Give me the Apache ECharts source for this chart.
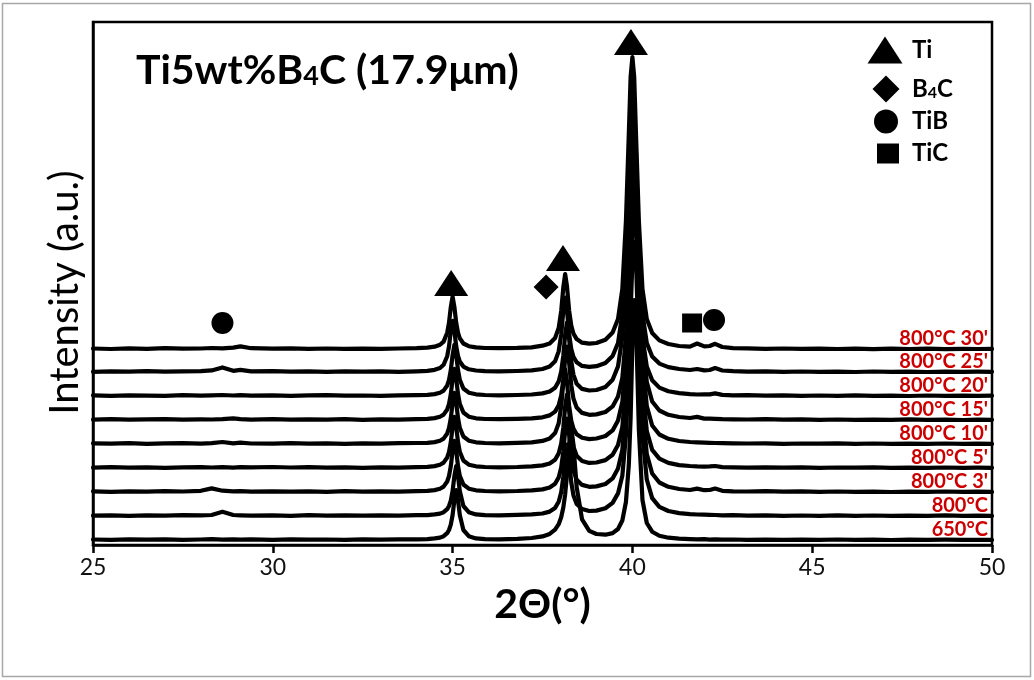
<!DOCTYPE html>
<html>
<head>
<meta charset="utf-8">
<script src="https://cdn.jsdelivr.net/npm/echarts@6/dist/echarts.min.js"></script>
<style>
html, body { margin: 0; padding: 0; background: #ffffff; }
#chart { width: 1034px; height: 680px; }
</style>
</head>
<body>
<div id="chart"></div>
<script>
// 2θ positions (degrees) shared by every pattern
const twoTheta = [
  25, 25.5, 26, 26.5, 27, 27.5, 28, 28.3, 28.6, 28.9, 29.1, 29.4, 30, 30.5, 31, 31.5, 32, 32.5, 33, 33.5, 34,
  34.3, 34.5, 34.65, 34.75, 34.85, 34.9, 34.95, 35, 35.05, 35.1, 35.15, 35.2, 35.3, 35.45, 35.65, 35.9,
  36.3, 36.8, 37.2,
  37.5, 37.7, 37.85, 37.95, 38.02, 38.08, 38.13, 38.18, 38.24, 38.3, 38.36, 38.45, 38.6,
  38.8, 39.0, 39.25, 39.45, 39.6, 39.72, 39.82, 39.9, 39.95, 40.0, 40.05, 40.1, 40.18, 40.28, 40.4, 40.55, 40.75, 41.0, 41.3, 41.6,
  41.8, 42.0, 42.15, 42.3, 42.5, 42.8, 43.2, 43.7, 44.2, 44.7, 45.2, 45.7, 46.2, 46.7, 47.2, 47.7, 48.2, 48.7, 49.2, 49.6, 50
];

// Sample labels, bottom pattern first
const sampleNames = ["650°C", "800°C", "800°C 3'", "800°C 5'", "800°C 10'", "800°C 15'", "800°C 20'", "800°C 25'", "800°C 30'"];

// Vertical stacking offset of each pattern (a.u.)
const offsets = [5, 29, 53, 77, 101, 125, 149, 173, 196];

// Intensities above each pattern's own baseline (a.u.)
const i650 = [
  0.5, 0.2, 0.6, 0.3, 0.7, 0.2, 0.5, 0.8, 0.4, 0.7, 0.3, 0.6, 0.2, 0.7, 0.3, 0.5, 0.2, 0.6, 0.3, 0.7, 0.7,
  0.9, 1.6, 2.4, 3.8, 6.9, 10, 15.4, 25, 40, 50, 40, 25, 10, 3.8, 1.6, 0.9,
  0.6, 1.2, 2.0,
  3.6, 6.1, 10.3, 15.8, 22.8, 32.7, 45.7, 65, 95, 112.5, 95.2, 52.8, 20.6,
  9.1, 6.0, 5.3, 6.9, 11, 19.5, 38, 75, 122, 196, 240, 218, 110, 40, 17, 8.3, 4.2, 2.3, 1.4, 0.9,
  0.7, 0.8, 0.4, 0.6, 0.3, 0.5, 0.2, 0.4, 0.1, 0.4, 0.2, 0.5, 0.1, 0.3, 0.0, 0.4, 0.2, 0.3, 0.1, 0.2, 0.1
];
const i800 = [
  0.3, 0.7, 0.2, 0.6, 0.4, 0.8, 0.6, 1.0, 4.2, 1.0, 0.7, 0.3, 0.6, 0.2, 0.9, 0.4, 0.6, 0.3, 0.7, 0.4, 0.8,
  0.9, 1.6, 2.4, 3.8, 6.9, 10, 15.4, 25, 40, 50, 40, 25, 10, 3.8, 1.6, 0.9,
  0.7, 1.1, 1.6,
  2.5, 4.4, 8.1, 14.2, 23.7, 39.5, 59.3, 71.3, 55.4, 33.6, 20.8, 12, 7.0,
  5.0, 5.4, 7.7, 13.1, 22.6, 40.3, 80.6, 144, 202, 255, 274, 255, 163, 80.6, 36.5, 17.8, 9.1, 5.0, 2.9, 1.9,
  1.5, 1.3, 1.1, 1.0, 0.7, 0.9, 0.4, 0.6, 0.2, 0.5, 0.1, 0.6, 0.2, 0.5, 0.1, 0.4, 0.2, 0.6, 0.2, 0.4, 0.1
];
const i800m3 = [
  0.6, 0.2, 0.7, 0.3, 0.8, 0.5, 1.2, 3.6, 1.3, 0.6, 0.9, 0.4, 0.7, 0.3, 0.6, 0.2, 0.8, 0.4, 0.6, 0.3, 0.9,
  1.2, 1.9, 3.3, 5.4, 10.5, 16, 25.8, 41, 51.2, 41.2, 26, 16.2, 7.5, 3.3, 1.7, 1.0,
  0.7, 1.0, 1.6,
  2.6, 4.5, 8.3, 14.6, 24.4, 40.7, 61.1, 73.5, 57.1, 34.6, 21.4, 12.3, 7.1,
  5.2, 5.6, 8.0, 13.6, 23.5, 42, 84, 150, 210, 266, 285, 266, 170, 84, 38, 18.5, 9.5, 5.2, 3.0, 2.0,
  3.4, 1.8, 2.0, 3.5, 1.2, 0.7, 0.5, 0.8, 0.3, 0.6, 0.2, 0.5, 0.1, 0.4, 0.0, 0.4, 0.2, 0.5, 0.1, 0.3, 0.1
];
const i800m5 = [
  0.4, 0.9, 0.3, 0.7, 0.2, 0.6, 0.9, 0.5, 0.8, 0.4, 0.9, 0.6, 1.0, 0.5, 0.8, 0.3, 0.6, 0.2, 0.7, 0.4, 0.9,
  1.2, 1.9, 3.3, 5.4, 10.5, 16, 25.8, 41, 51.2, 41.2, 26, 16.2, 7.5, 3.3, 1.7, 1.0,
  0.7, 1.0, 1.6,
  2.6, 4.5, 8.3, 14.6, 24.4, 40.7, 61.1, 73.5, 57.1, 34.6, 21.4, 12.3, 7.1,
  5.1, 5.5, 7.9, 13.3, 23, 41, 82, 147, 206, 261, 279, 261, 167, 82, 37, 18.1, 9.3, 5.1, 2.9, 2.0,
  1.6, 1.4, 1.6, 2.0, 0.9, 0.6, 0.4, 0.7, 0.3, 0.6, 0.2, 0.5, 0.3, 0.6, 0.1, 0.4, 0.2, 0.5, 0.1, 0.3, 0.2
];
const i800m10 = [
  0.7, 0.3, 0.8, 0.2, 0.6, 0.9, 0.4, 0.8, 2.0, 0.7, 1.4, 0.5, 0.3, 0.8, 0.4, 0.6, 0.2, 0.7, 0.4, 0.8, 1.0,
  1.2, 1.9, 3.3, 5.4, 10.5, 16, 25.8, 41, 51.2, 41.2, 26, 16.2, 7.5, 3.3, 1.7, 1.0,
  0.7, 1.1, 1.7,
  3.1, 5.5, 10.9, 20.8, 37.8, 61.8, 74.8, 62.8, 38.3, 23.2, 15.4, 9.8, 6.2,
  4.9, 5.5, 8.0, 13.6, 23.5, 42, 84, 150, 210, 266, 285, 266, 170, 84, 38, 18.5, 9.5, 5.2, 3.0, 2.0,
  1.6, 1.3, 1.1, 1.0, 0.8, 0.6, 0.5, 0.7, 0.2, 0.5, 0.3, 0.6, 0.1, 0.5, 0.2, 0.4, 0.1, 0.5, 0.2, 0.4, 0.1
];
const i800m15 = [
  0.3, 0.8, 0.4, 0.6, 0.9, 0.3, 0.7, 0.5, 0.9, 1.6, 0.8, 0.4, 0.8, 0.3, 0.7, 0.4, 0.8, 0.2, 0.6, 0.3, 0.8,
  1.2, 1.9, 3.3, 5.4, 10.5, 16, 25.8, 41, 51.2, 41.2, 26, 16.2, 7.5, 3.3, 1.7, 1.0,
  0.8, 1.1, 1.6,
  2.7, 4.6, 8.4, 14.7, 24.5, 40.8, 61.2, 73.5, 57.2, 34.7, 21.5, 12.4, 7.1,
  5.2, 5.6, 8.0, 13.6, 23.5, 42, 84, 150, 210, 266, 285, 266, 170, 84, 38, 18.5, 9.5, 5.2, 3.0, 2.0,
  3.1, 1.4, 1.3, 1.2, 0.8, 0.7, 0.5, 0.8, 0.3, 0.6, 0.2, 0.5, 0.1, 0.4, 0.2, 0.6, 0.1, 0.4, 0.0, 0.3, 0.2
];
const i800m20 = [
  0.6, 0.2, 0.7, 0.4, 0.2, 0.8, 0.3, 0.6, 1.0, 0.5, 0.9, 0.3, 0.7, 0.2, 0.6, 0.9, 0.3, 0.5, 0.1, 0.6, 0.9,
  1.2, 1.9, 3.3, 5.4, 10.5, 16, 25.8, 41, 51.2, 41.2, 26, 16.2, 7.5, 3.3, 1.7, 1.0,
  0.7, 1.0, 1.5,
  2.6, 4.5, 8.3, 14.6, 24.4, 40.7, 61.1, 73.5, 57.1, 34.6, 21.4, 12.3, 7.1,
  5.5, 6.0, 9.0, 16.2, 29.6, 59, 126, 212, 268, 288, 268, 212, 126, 59, 29.4, 15.7, 8.4, 4.8, 2.9, 1.9,
  1.5, 1.6, 1.6, 2.6, 1.1, 0.6, 0.8, 0.3, 0.6, 0.2, 0.5, 0.1, 0.6, 0.2, 0.4, 0.0, 0.5, 0.2, 0.4, 0.1, 0.3
];
const i800m25 = [
  0.2, 0.7, 0.3, 0.9, 0.4, 0.6, 0.9, 1.6, 4.6, 1.2, 2.2, 0.6, 0.8, 0.3, 0.6, 0.2, 0.7, 0.3, 0.6, 0.2, 0.7,
  1.2, 2.2, 4.0, 7.2, 15.8, 25.6, 41, 51.2, 41, 25.8, 16, 10.4, 5.4, 2.7, 1.5, 0.9,
  0.6, 1.0, 1.6,
  3.0, 5.4, 10.8, 20.6, 37.5, 61.5, 74.5, 62.5, 38, 23, 15.2, 9.7, 6.1,
  5.1, 5.8, 8.9, 16, 29, 58, 124, 208, 264, 283, 264, 208, 124, 58, 29, 15.5, 8.4, 4.9, 3.0, 2.0,
  3.0, 1.6, 2.0, 3.9, 1.5, 0.8, 0.4, 0.7, 0.2, 0.5, 0.1, 0.4, 0.0, 0.5, 0.1, 0.3, 0.0, 0.4, 0.1, 0.3, 0.2
];
const i800m30 = [
  0.5, 0, 0.6, 0.2, 0.8, 0.3, 0.5, 1.0, 0.6, 1.4, 2.6, 0.8, 0.4, 0.7, 0.2, 0.5, 0.1, 0.4, 0.2, 0.5, 0.8,
  1.3, 2.3, 4.2, 7.4, 16.3, 26.3, 41.9, 52.3, 41.9, 26.3, 16.3, 10.7, 5.5, 2.8, 1.6, 1.0,
  0.8, 1.1, 1.7,
  3.3, 5.6, 11, 21, 38, 62, 75, 63, 38.5, 23.4, 15.5, 9.9, 6.3,
  5.3, 6.0, 9.2, 16.5, 30, 60, 128, 215, 272, 292, 272, 215, 128, 60, 30, 16, 8.6, 5.0, 3.0, 2.4,
  5.5, 2.6, 3.0, 5.2, 2.0, 0.9, 0.6, 0.2, 0.5, 0.1, 0.4, 0.0, 0.3, -0.1, 0.3, 0.0, 0.4, -0.1, 0.2, 0.0, 0.1
];

const patterns = [i650, i800, i800m3, i800m5, i800m10, i800m15, i800m20, i800m25, i800m30];

// Phase markers placed above the reflections: [2θ, height in a.u.]
const tiMarks = [[34.96, 262], [38.07, 287], [39.96, 503]];
const b4cMarks = [[37.6, 258]];
const tibMarks = [[28.6, 222], [42.27, 225]];
const ticMarks = [[41.66, 222]];

const xTicks = { min: 25, max: 50, step: 5 };

const FONT = "Lato, 'Open Sans', 'DejaVu Sans', sans-serif";

const chart = echarts.init(document.getElementById('chart'), null, { renderer: 'canvas' });

const patternSeries = patterns.map((vals, i) => ({
  type: 'line',
  name: sampleNames[i],
  symbol: 'none',
  showSymbol: false,
  silent: true,
  animation: false,
  z: 2,
  lineStyle: { color: '#000', width: 4.2, join: 'round', cap: 'round' },
  itemStyle: { color: '#000' },
  endLabel: {
    show: true,
    formatter: sampleNames[i],
    align: 'right',
    verticalAlign: 'middle',
    distance: 0,
    offset: [-4, -10],
    color: '#cc0000',
    fontFamily: FONT,
    fontWeight: 'bold',
    fontSize: 20
  },
  data: vals.map((v, j) => [twoTheta[j], v + offsets[i]])
}));

const markerSeries = [
  { name: 'Ti', symbol: 'triangle', symbolSize: [34, 26], data: tiMarks },
  { name: 'B4C', symbol: 'diamond', symbolSize: [25, 25], data: b4cMarks },
  { name: 'TiB', symbol: 'circle', symbolSize: 22, data: tibMarks },
  { name: 'TiC', symbol: 'rect', symbolSize: [20, 19], data: ticMarks }
].map(s => Object.assign({
  type: 'scatter',
  silent: true,
  animation: false,
  z: 5,
  itemStyle: { color: '#000', opacity: 1 }
}, s));

const legendText = {
  color: '#000',
  fontFamily: FONT,
  fontSize: 24,
  fontWeight: 'bold',
  rich: {
    m: { fontFamily: FONT, fontSize: 24, fontWeight: 'bold', color: '#000' },
    s: { fontFamily: FONT, fontSize: 16, fontWeight: 'bold', color: '#000', padding: [7, 0, 0, 0] }
  }
};
function legendFor(name, icon, w, h, cx, cy, textLeft) {
  const left = cx - w / 2;
  return {
    data: [{ name: name, icon: icon }],
    left: left,
    top: cy - Math.max(h, 29) / 2,
    orient: 'vertical',
    itemWidth: w,
    itemHeight: h,
    padding: 0,
    selectedMode: false,
    formatter: n => n === 'B4C' ? '{m|B}{s|4}{m|C}' : n,
    textStyle: Object.assign({ padding: [0, 0, 0, textLeft - (left + w + 5)] }, legendText)
  };
}

const option = {
  backgroundColor: '#ffffff',
  animation: false,
  title: {
    text: '{a|Ti5wt%B}{b|4}{a|C (17.9μm)}',
    left: 131,
    top: 45,
    textStyle: {
      rich: {
        a: { fontFamily: FONT, fontSize: 41, fontWeight: 'bold', color: '#000' },
        b: { fontFamily: FONT, fontSize: 27, fontWeight: 'bold', color: '#000', padding: [12, 0, 0, 0] }
      }
    }
  },
  legend: [
    legendFor('Ti', 'triangle', 35, 27, 885, 51, 912),
    legendFor('B4C', 'diamond', 27, 27, 886, 90, 912),
    legendFor('TiB', 'circle', 24, 24, 886, 124, 912),
    legendFor('TiC', 'rect', 22, 20, 888, 156, 912)
  ],
  grid: {
    left: 93, right: 42, top: 22, bottom: 135,
    show: true, borderColor: '#000', borderWidth: 2.5, backgroundColor: 'transparent'
  },
  xAxis: {
    type: 'value',
    min: xTicks.min,
    max: xTicks.max,
    interval: xTicks.step,
    name: '2Θ(°)',
    nameLocation: 'middle',
    nameGap: 39,
    nameTextStyle: { fontFamily: FONT, fontSize: 41, fontWeight: 'bold', color: '#000' },
    axisLine: { lineStyle: { color: '#000', width: 2.5 } },
    axisTick: { show: true, length: 8, lineStyle: { color: '#000', width: 2.5 } },
    axisLabel: { fontFamily: FONT, fontSize: 23, color: '#111', margin: 11 },
    splitLine: { show: false }
  },
  yAxis: {
    type: 'value',
    min: 0,
    max: 523,
    name: 'Intensity (a.u.)',
    nameLocation: 'middle',
    nameGap: 8,
    nameTextStyle: { fontFamily: FONT, fontSize: 40, color: '#000', padding: [0, 18, 0, 0] },
    axisLine: { show: true, lineStyle: { color: '#000', width: 2.5 } },
    axisTick: { show: false },
    axisLabel: { show: false },
    splitLine: { show: false }
  },
  graphic: [{
    type: 'rect',
    silent: true,
    shape: { x: 2.5, y: 3.5, width: 1028, height: 673 },
    style: { fill: 'none', stroke: '#a8a8a8', lineWidth: 1.5 }
  }],
  series: patternSeries.concat(markerSeries)
};

chart.setOption(option);
</script>
</body>
</html>
